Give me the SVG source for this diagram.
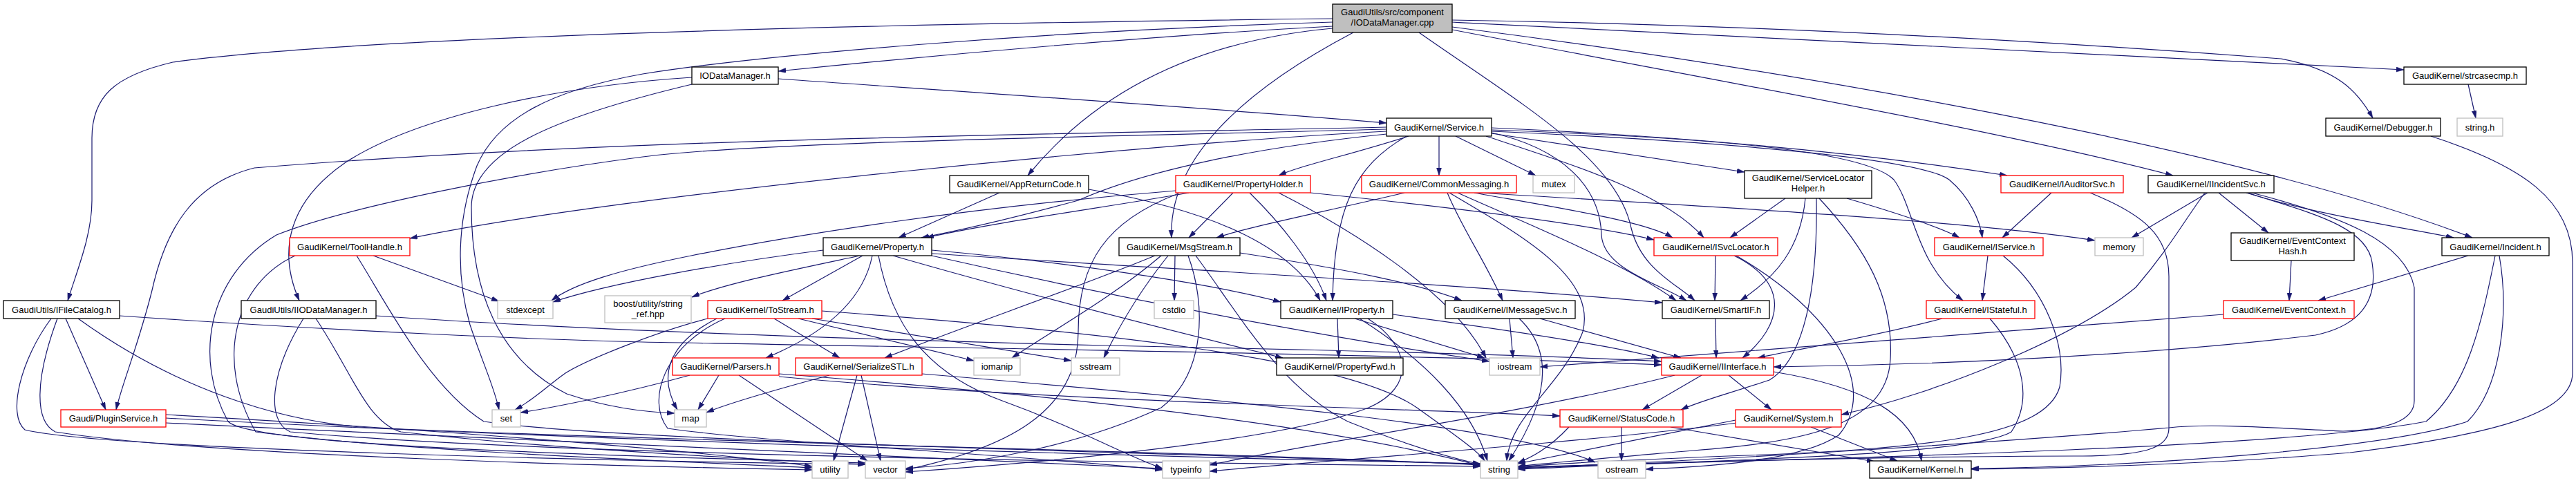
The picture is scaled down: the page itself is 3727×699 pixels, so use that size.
<svg xmlns="http://www.w3.org/2000/svg" width="3727" height="699" viewBox="0 0 3727 699">
<style>
.node rect{fill:#ffffff;stroke:#000000;stroke-width:1.3}
.node.red rect{stroke:#ff0000}
.node.gray rect{stroke:#bfbfbf}
.node.main rect{fill:#bfbfbf}
.node text{font-family:"Liberation Sans",Arial,sans-serif;font-size:13px;fill:#000000;text-anchor:middle}
.edges path{fill:none;stroke:#191970;stroke-width:1.2;marker-end:url(#arr)}
</style>
<defs>
<marker id="arr" markerUnits="userSpaceOnUse" markerWidth="12" markerHeight="8" refX="11" refY="3.5" orient="auto">
<path d="M0,0 L11,3.5 L0,7 z" fill="#191970" stroke="#191970" stroke-width="0.5"/>
</marker>
</defs>
<rect x="0" y="0" width="3727" height="699" fill="#ffffff"/>
<g id="edges" class="edges">
<path d="M1928,38 C1700,50 1400,75 1126,103"/>
<path d="M1928,27 C1200,35 500,55 250,90 C165,110 133,140 133,200 L133,290 C133,340 112,390 98,435"/>
<path d="M1928,32 C1500,45 1100,80 930,107 C800,130 720,170 690,240 C660,320 660,400 680,470 C700,530 715,560 722,593"/>
<path d="M1928,41 C1720,60 1580,140 1487,254"/>
<path d="M1958,47 C1800,130 1690,230 1695,344"/>
<path d="M2053,47 C2200,150 2340,230 2360,330 C2375,390 2425,410 2452,435"/>
<path d="M2101,29 C2500,35 2900,55 3300,85 C3380,100 3410,130 3433,171"/>
<path d="M2101,32 C2600,60 3100,85 3478,101"/>
<path d="M2101,39 C2500,90 3200,200 3577,344"/>
<path d="M2101,43 C2500,120 2900,190 3144,254"/>
<path d="M1126,114 C1500,140 1800,160 2006,178"/>
<path d="M1001,112 C800,125 600,170 500,235 C420,290 400,360 433,435"/>
<path d="M1001,122 C800,170 682,220 682,300 C682,420 720,520 820,570 C880,590 930,596 976,598"/>
<path d="M2006,184 C1500,195 900,200 368,243 C280,265 240,330 220,420 C200,500 175,560 168,593"/>
<path d="M2006,190 C1700,205 900,280 593,345"/>
<path d="M2006,187 C1600,198 1100,205 930,227 C750,250 500,300 400,340 C300,400 280,520 330,610 C360,640 700,655 1252,670"/>
<path d="M2006,194 C1800,215 1650,250 1560,290 C1450,320 1380,335 1333,344"/>
<path d="M2038,197 C1950,225 1880,240 1850,254"/>
<path d="M2035,197 C1960,240 1930,300 1928,435"/>
<path d="M2082,197 L2082,254"/>
<path d="M2106,197 L2222,254"/>
<path d="M2158,193 L2524,249"/>
<path d="M2150,197 C2280,240 2410,280 2465,344"/>
<path d="M2158,192 C2260,215 2315,270 2317,340 C2320,390 2400,410 2440,435"/>
<path d="M2158,185 C2500,200 2750,230 2904,254"/>
<path d="M2158,188 C2500,200 2700,220 2740,260 C2770,300 2770,380 2840,435"/>
<path d="M2158,190 C2500,205 2780,230 2820,260 C2850,285 2865,320 2868,344"/>
<path d="M3571,122 L3582,171"/>
<path d="M3517,197 C3650,240 3722,290 3722,380 L3722,540 C3722,600 3600,630 3400,655 C3200,672 3000,677 2852,679"/>
<path d="M1446,279 L1300,344"/>
<path d="M1575,274 C1760,305 1870,360 1910,435"/>
<path d="M1720,279 C1600,300 1450,320 1340,344"/>
<path d="M1784,279 L1720,344"/>
<path d="M1701,276 C1400,300 1150,340 1000,370 C900,390 830,410 798,435"/>
<path d="M1808,279 C1850,320 1900,380 1919,435"/>
<path d="M1896,279 C2100,300 2300,325 2393,347"/>
<path d="M1705,280 C1600,320 1560,380 1560,480 C1560,600 1450,650 1310,680"/>
<path d="M1850,279 C1950,330 2100,420 2150,518"/>
<path d="M2032,279 C1900,310 1800,330 1760,344"/>
<path d="M2094,279 C2115,330 2150,380 2174,435"/>
<path d="M2133,279 C2250,300 2380,320 2420,344"/>
<path d="M2139,279 C2500,300 2850,320 3031,348"/>
<path d="M2109,279 C2200,320 2350,380 2425,435"/>
<path d="M2097,279 C2200,340 2310,400 2290,480 C2260,560 2185,600 2180,667"/>
<path d="M2583,287 L2503,344"/>
<path d="M2612,287 C2605,360 2570,400 2518,435"/>
<path d="M2628,287 C2630,420 2610,520 2560,550 C2500,570 2460,580 2432,593"/>
<path d="M2672,287 C2750,310 2810,330 2835,344"/>
<path d="M2632,287 C2700,360 2740,430 2735,520 C2730,620 2600,640 2450,652 C2300,665 2240,670 2196,675"/>
<path d="M2968,279 L2897,344"/>
<path d="M3024,279 C3100,310 3138,340 3138,400 L3138,620 C3138,650 3100,660 3000,660 C2800,660 2400,668 2196,677"/>
<path d="M3194,279 L3084,344"/>
<path d="M3210,279 L3282,337"/>
<path d="M3250,279 C3350,310 3480,330 3550,344"/>
<path d="M3190,279 C3160,320 3138,360 3090,416 C3000,490 2800,570 2664,600"/>
<path d="M3252,279 C3330,305 3425,325 3432,380 C3440,430 3420,470 3350,485 C3100,515 2800,528 2566,531"/>
<path d="M3258,279 C3390,313 3480,350 3493,416 L3493,580 C3493,610 3450,622 3390,624 C3300,620 3200,612 3138,619 C2900,640 2500,665 2196,678"/>
<path d="M3571,370 L3354,435"/>
<path d="M3610,370 C3590,470 3570,560 3510,610 C3300,650 2600,665 2196,676"/>
<path d="M3616,370 C3630,450 3620,560 3570,610 C3450,650 3100,675 2852,678"/>
<path d="M3315,377 L3312,435"/>
<path d="M3217,455 C2900,480 2500,510 2228,531"/>
<path d="M2876,370 L2868,435"/>
<path d="M2898,370 C2960,420 2990,500 2980,560 C2960,630 2800,650 2500,660 C2300,668 2230,672 2196,676"/>
<path d="M2482,370 L2481,435"/>
<path d="M2509,370 C2590,410 2580,470 2521,518"/>
<path d="M2512,370 C2650,450 2720,560 2660,630 C2600,670 2450,676 2381,679"/>
<path d="M2810,461 C2700,490 2600,505 2543,518"/>
<path d="M2879,461 C2930,520 2940,580 2910,625 C2850,660 2500,665 2196,679"/>
<path d="M2482,461 L2483,518"/>
<path d="M2462,543 L2376,593"/>
<path d="M2501,543 L2563,593"/>
<path d="M2566,538 C2700,560 2770,600 2780,667"/>
<path d="M2423,543 C2200,600 1900,640 1750,673"/>
<path d="M2346,618 L2346,667"/>
<path d="M2417,618 L2712,668"/>
<path d="M2270,618 C2240,650 2215,662 2196,670"/>
<path d="M2620,618 L2745,667"/>
<path d="M2511,608 C2400,630 2250,660 2196,671"/>
<path d="M2521,611 C2300,640 1900,668 1750,682"/>
<path d="M2184,461 L2189,518"/>
<path d="M2228,461 L2432,518"/>
<path d="M2198,461 C2250,510 2240,580 2183,667"/>
<path d="M1935,461 L1937,518"/>
<path d="M1960,461 L2148,518"/>
<path d="M2015,455 C2200,480 2330,500 2400,518"/>
<path d="M1967,461 C2060,520 2130,590 2152,667"/>
<path d="M1979,461 C2040,500 2050,560 1980,590 C1850,640 1500,670 1310,683"/>
<path d="M1700,370 L1699,435"/>
<path d="M1671,370 C1550,420 1400,470 1280,518"/>
<path d="M1680,370 C1610,430 1520,480 1464,518"/>
<path d="M1690,370 C1650,420 1620,470 1597,518"/>
<path d="M1794,366 C1950,390 2050,410 2115,435"/>
<path d="M1719,370 C1745,440 1745,540 1680,590 C1550,650 1400,672 1310,678"/>
<path d="M1730,370 C1790,450 1850,560 1950,610 C2050,650 2110,665 2142,672"/>
<path d="M1244,370 C1150,390 1050,410 1001,430"/>
<path d="M1248,370 L1132,435"/>
<path d="M1262,370 C1250,430 1200,480 1108,518"/>
<path d="M1191,362 C1050,380 880,410 800,437"/>
<path d="M1348,362 C1550,380 1750,410 1853,437"/>
<path d="M1292,370 C1500,430 1700,480 1856,518"/>
<path d="M1348,367 C1700,390 2100,410 2405,438"/>
<path d="M1271,370 C1290,470 1340,540 1450,580 C1560,620 1630,660 1682,678"/>
<path d="M1348,370 C1700,450 2000,500 2155,523"/>
<path d="M1120,461 L1215,518"/>
<path d="M1155,461 L1409,522"/>
<path d="M1175,461 L1550,522"/>
<path d="M1037,461 C960,500 955,550 980,593"/>
<path d="M1024,461 C950,480 850,520 818,540 C790,560 770,580 745,593"/>
<path d="M1189,450 C1600,480 1950,520 2050,590 C2120,640 2140,655 2148,667"/>
<path d="M1049,461 C960,500 935,580 966,620 C1100,640 1500,660 1682,680"/>
<path d="M1040,543 L1010,593"/>
<path d="M998,543 C900,570 800,590 753,597"/>
<path d="M1069,543 L1255,667"/>
<path d="M1127,541 C1500,570 1900,610 2142,674"/>
<path d="M1127,545 C1500,580 2000,590 2257,602"/>
<path d="M1200,543 C1100,570 1050,585 1022,597"/>
<path d="M1240,543 L1206,667"/>
<path d="M1246,543 L1274,667"/>
<path d="M1334,541 C1800,580 2200,620 2308,669"/>
<path d="M95,461 L153,593"/>
<path d="M173,457 C500,480 800,492 930,495 C1500,505 2100,515 2404,528"/>
<path d="M113,461 C250,560 400,610 534,619 C1000,640 1800,655 2142,673"/>
<path d="M83,461 C50,550 50,610 80,625 C300,660 900,675 1175,680"/>
<path d="M74,461 C30,520 10,600 36,622 C150,650 900,668 1252,672"/>
<path d="M544,457 C800,475 1200,490 1600,500 C2000,508 2250,515 2404,523"/>
<path d="M439,461 C390,540 385,610 420,625 C800,660 1700,670 2142,675"/>
<path d="M457,461 C510,540 530,610 580,625 C800,650 1100,665 1252,672"/>
<path d="M540,370 L722,436"/>
<path d="M516,370 C560,440 620,560 700,610 C900,640 1700,655 2142,672"/>
<path d="M427,370 C340,410 310,520 370,625 C600,655 1000,668 1175,677"/>
<path d="M240,605 C800,635 1600,660 2142,671"/>
<path d="M240,600 C600,620 1000,650 1175,675"/>
<path d="M240,612 C800,640 1400,665 1682,678"/>
</g>
<g id="n_main" class="node main"><rect x="1928" y="6" width="173" height="41"/><text x="2014.5" y="22">GaudiUtils/src/component</text><text x="2014.5" y="37">/IODataManager.cpp</text></g>
<g id="n_IODataManager_h" class="node"><rect x="1001" y="97" width="125" height="25"/><text x="1063.5" y="114">IODataManager.h</text></g>
<g id="n_strcasecmp" class="node"><rect x="3478" y="97" width="177" height="25"/><text x="3566.5" y="114">GaudiKernel/strcasecmp.h</text></g>
<g id="n_Service" class="node"><rect x="2006" y="171" width="152" height="26"/><text x="2082" y="188.5">GaudiKernel/Service.h</text></g>
<g id="n_Debugger" class="node"><rect x="3365" y="171" width="166" height="26"/><text x="3448" y="188.5">GaudiKernel/Debugger.h</text></g>
<g id="n_string_h" class="node gray"><rect x="3555" y="171" width="66" height="26"/><text x="3588" y="188.5">string.h</text></g>
<g id="n_AppReturnCode" class="node"><rect x="1374" y="254" width="201" height="25"/><text x="1474.5" y="271">GaudiKernel/AppReturnCode.h</text></g>
<g id="n_PropertyHolder" class="node red"><rect x="1701" y="254" width="195" height="25"/><text x="1798.5" y="271">GaudiKernel/PropertyHolder.h</text></g>
<g id="n_CommonMessaging" class="node red"><rect x="1970" y="254" width="224" height="25"/><text x="2082" y="271">GaudiKernel/CommonMessaging.h</text></g>
<g id="n_mutex" class="node gray"><rect x="2218" y="254" width="60" height="25"/><text x="2248" y="271">mutex</text></g>
<g id="n_ServiceLocatorHelper" class="node"><rect x="2524" y="247" width="184" height="40"/><text x="2616" y="262">GaudiKernel/ServiceLocator</text><text x="2616" y="277">Helper.h</text></g>
<g id="n_IAuditorSvc" class="node red"><rect x="2895" y="254" width="177" height="25"/><text x="2983.5" y="271">GaudiKernel/IAuditorSvc.h</text></g>
<g id="n_IIncidentSvc" class="node"><rect x="3108" y="254" width="182" height="25"/><text x="3199" y="271">GaudiKernel/IIncidentSvc.h</text></g>
<g id="n_ToolHandle" class="node red"><rect x="419" y="344" width="174" height="26"/><text x="506" y="361.5">GaudiKernel/ToolHandle.h</text></g>
<g id="n_Property" class="node"><rect x="1191" y="344" width="157" height="26"/><text x="1269.5" y="361.5">GaudiKernel/Property.h</text></g>
<g id="n_MsgStream" class="node"><rect x="1619" y="344" width="175" height="26"/><text x="1706.5" y="361.5">GaudiKernel/MsgStream.h</text></g>
<g id="n_ISvcLocator" class="node red"><rect x="2393" y="344" width="179" height="26"/><text x="2482.5" y="361.5">GaudiKernel/ISvcLocator.h</text></g>
<g id="n_IService" class="node red"><rect x="2799" y="344" width="157" height="26"/><text x="2877.5" y="361.5">GaudiKernel/IService.h</text></g>
<g id="n_memory" class="node gray"><rect x="3031" y="344" width="70" height="26"/><text x="3066" y="361.5">memory</text></g>
<g id="n_EventContextHash" class="node"><rect x="3228" y="337" width="178" height="40"/><text x="3317" y="353">GaudiKernel/EventContext</text><text x="3317" y="368">Hash.h</text></g>
<g id="n_Incident" class="node"><rect x="3533" y="344" width="155" height="26"/><text x="3610.5" y="361.5">GaudiKernel/Incident.h</text></g>
<g id="n_IFileCatalog" class="node"><rect x="5" y="435" width="168" height="26"/><text x="89" y="452.5">GaudiUtils/IFileCatalog.h</text></g>
<g id="n_IIODataManager" class="node"><rect x="349" y="435" width="195" height="26"/><text x="446.5" y="452.5">GaudiUtils/IIODataManager.h</text></g>
<g id="n_stdexcept" class="node gray"><rect x="720" y="435" width="80" height="26"/><text x="760" y="452.5">stdexcept</text></g>
<g id="n_boost" class="node gray"><rect x="875" y="428" width="125" height="39"/><text x="937.5" y="444">boost/utility/string</text><text x="937.5" y="459">_ref.hpp</text></g>
<g id="n_ToStream" class="node red"><rect x="1024" y="435" width="165" height="26"/><text x="1106.5" y="452.5">GaudiKernel/ToStream.h</text></g>
<g id="n_cstdio" class="node gray"><rect x="1670" y="435" width="57" height="26"/><text x="1698.5" y="452.5">cstdio</text></g>
<g id="n_IProperty" class="node"><rect x="1853" y="435" width="162" height="26"/><text x="1934" y="452.5">GaudiKernel/IProperty.h</text></g>
<g id="n_IMessageSvc" class="node"><rect x="2091" y="435" width="188" height="26"/><text x="2185" y="452.5">GaudiKernel/IMessageSvc.h</text></g>
<g id="n_SmartIF" class="node"><rect x="2405" y="435" width="155" height="26"/><text x="2482.5" y="452.5">GaudiKernel/SmartIF.h</text></g>
<g id="n_IStateful" class="node red"><rect x="2787" y="435" width="157" height="26"/><text x="2865.5" y="452.5">GaudiKernel/IStateful.h</text></g>
<g id="n_EventContext" class="node red"><rect x="3217" y="435" width="189" height="26"/><text x="3311.5" y="452.5">GaudiKernel/EventContext.h</text></g>
<g id="n_Parsers" class="node red"><rect x="973" y="518" width="154" height="25"/><text x="1050" y="535">GaudiKernel/Parsers.h</text></g>
<g id="n_SerializeSTL" class="node red"><rect x="1151" y="518" width="183" height="25"/><text x="1242.5" y="535">GaudiKernel/SerializeSTL.h</text></g>
<g id="n_iomanip" class="node gray"><rect x="1409" y="518" width="67" height="25"/><text x="1442.5" y="535">iomanip</text></g>
<g id="n_sstream" class="node gray"><rect x="1550" y="518" width="70" height="25"/><text x="1585" y="535">sstream</text></g>
<g id="n_PropertyFwd" class="node"><rect x="1847" y="518" width="183" height="25"/><text x="1938.5" y="535">GaudiKernel/PropertyFwd.h</text></g>
<g id="n_iostream" class="node gray"><rect x="2155" y="518" width="73" height="25"/><text x="2191.5" y="535">iostream</text></g>
<g id="n_IInterface" class="node red"><rect x="2404" y="518" width="162" height="25"/><text x="2485" y="535">GaudiKernel/IInterface.h</text></g>
<g id="n_PluginService" class="node red"><rect x="88" y="593" width="152" height="25"/><text x="164" y="610">Gaudi/PluginService.h</text></g>
<g id="n_set" class="node gray"><rect x="712" y="593" width="41" height="25"/><text x="732.5" y="610">set</text></g>
<g id="n_map" class="node gray"><rect x="976" y="593" width="46" height="25"/><text x="999" y="610">map</text></g>
<g id="n_StatusCode" class="node red"><rect x="2257" y="593" width="178" height="25"/><text x="2346" y="610">GaudiKernel/StatusCode.h</text></g>
<g id="n_System" class="node red"><rect x="2511" y="593" width="153" height="25"/><text x="2587.5" y="610">GaudiKernel/System.h</text></g>
<g id="n_utility" class="node gray"><rect x="1175" y="667" width="52" height="25"/><text x="1201" y="684">utility</text></g>
<g id="n_vector" class="node gray"><rect x="1252" y="667" width="58" height="25"/><text x="1281" y="684">vector</text></g>
<g id="n_typeinfo" class="node gray"><rect x="1682" y="667" width="68" height="25"/><text x="1716" y="684">typeinfo</text></g>
<g id="n_string" class="node gray"><rect x="2142" y="667" width="54" height="25"/><text x="2169" y="684">string</text></g>
<g id="n_ostream" class="node gray"><rect x="2312" y="667" width="69" height="25"/><text x="2346.5" y="684">ostream</text></g>
<g id="n_Kernel" class="node"><rect x="2705" y="667" width="147" height="25"/><text x="2778.5" y="684">GaudiKernel/Kernel.h</text></g>
</svg>
